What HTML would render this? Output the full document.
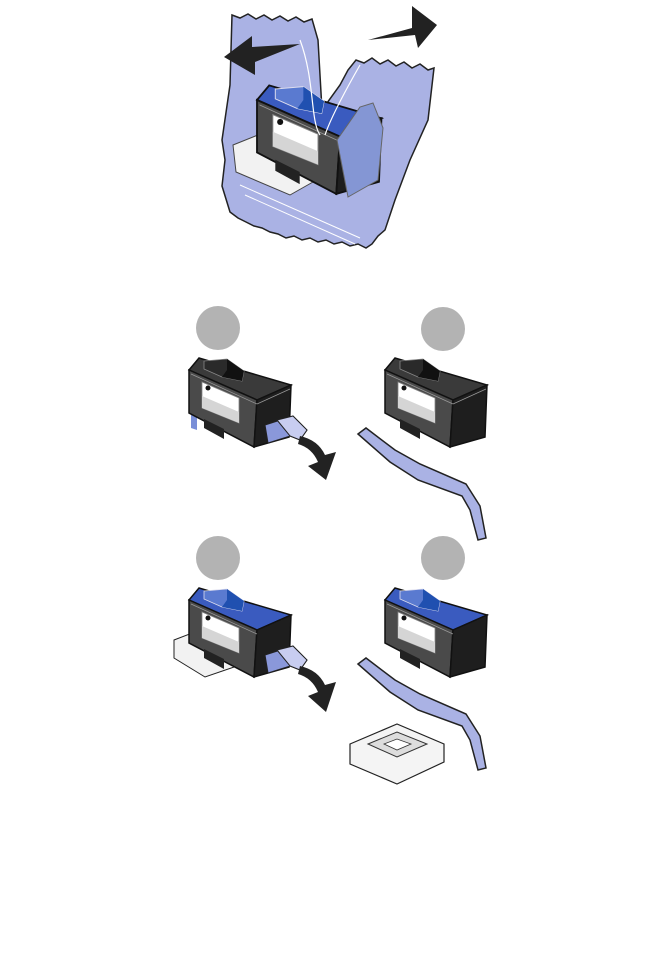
<!DOCTYPE html>
<html><head><meta charset="utf-8"><style>html,body{margin:0;padding:0;background:#fff}svg{display:block}</style></head>
<body>
<svg width="658" height="962" viewBox="0 0 658 962" xmlns="http://www.w3.org/2000/svg">
<defs>
<g id="cart">
  <polygon points="0,0 10,-12 102,15 68,30" fill="#3a3a3a" stroke="#111" stroke-width="1.5"/>
  <polygon points="0,0 68,30 65,77 0,43" fill="#4a4a4a" stroke="#111" stroke-width="1.5"/>
  <polygon points="68,30 102,15 100,67 65,77" fill="#1e1e1e" stroke="#111" stroke-width="1.5"/>
  <polygon points="13,12 50,28 50,53 13,38" fill="#fff" stroke="#888" stroke-width="0.8"/>
  <polygon points="13,26 50,42 50,53 13,38" fill="#d5d5d5"/>
  <circle cx="19" cy="18" r="2.5" fill="#111"/>
  <polygon points="15,49 35,59 35,69 15,58" fill="#222"/>
  <polygon points="15,-9 38,-11 55,1 53,11 33,7 15,-1" fill="#2a2a2a" stroke="#888" stroke-width="0.8"/>
  <polygon points="33,7 53,11 55,1 38,-11 38,0" fill="#111"/>
  <line x1="2" y1="4" x2="68" y2="34" stroke="#999" stroke-width="0.7"/>
  <line x1="68" y1="34" x2="101" y2="19" stroke="#999" stroke-width="0.7"/>
</g>
<g id="cartc">
  <polygon points="0,0 10,-12 102,15 68,30" fill="#3a5bbf" stroke="#111" stroke-width="1.5"/>
  <polygon points="0,0 68,30 65,77 0,43" fill="#4a4a4a" stroke="#111" stroke-width="1.5"/>
  <polygon points="68,30 102,15 100,67 65,77" fill="#1e1e1e" stroke="#111" stroke-width="1.5"/>
  <polygon points="13,12 50,28 50,53 13,38" fill="#fff" stroke="#888" stroke-width="0.8"/>
  <polygon points="13,26 50,42 50,53 13,38" fill="#d5d5d5"/>
  <circle cx="19" cy="18" r="2.5" fill="#111"/>
  <polygon points="15,49 35,59 35,69 15,58" fill="#222"/>
  <polygon points="15,-9 38,-11 55,1 53,11 33,7 15,-1" fill="#5a7ad0" stroke="#dde" stroke-width="0.8"/>
  <polygon points="33,7 53,11 55,1 38,-11 38,0" fill="#2050b0"/>
  <line x1="2" y1="4" x2="68" y2="34" stroke="#999" stroke-width="0.7"/>
</g>
</defs>

<!-- Top bag -->
<polygon points="232,15 240,18 248,14 256,19 264,15 272,20 280,16 288,21 296,17 304,22 312,19 318,40 322,110 340,85 348,70 356,60 364,63 372,58 380,64 388,60 396,66 404,62 412,68 420,64 428,70 434,68 428,120 410,160 395,200 385,230 378,236 372,244 366,248 358,244 350,246 342,242 334,244 326,240 318,242 310,238 302,240 294,236 286,238 278,234 270,232 262,228 254,226 246,222 238,218 230,212 222,186 225,160 222,140 230,85" fill="#aab2e4" stroke="#222" stroke-width="1.5"/>
<polygon points="233,145 258,135 320,178 290,195 236,172" fill="#f2f2f2" stroke="#444" stroke-width="1"/>
<g transform="translate(257,100) scale(1.22)"><use href="#cartc"/></g>
<polygon points="337,140 360,107 373,103 383,128 378,180 348,197" fill="#8496d4" stroke="#666" stroke-width="1"/>
<polygon points="224,57 252,36 252,47 300,44 255,62 255,75" fill="#222"/>
<polygon points="368,40 412,28 412,6 437,25 418,48 415,35" fill="#222"/>
<path d="M300,40 C315,80 310,120 320,135 M360,65 C340,100 330,120 325,135" stroke="#fff" stroke-width="1.2" fill="none"/>
<line x1="240" y1="185" x2="360" y2="238" stroke="#fff" stroke-width="1"/>
<line x1="245" y1="195" x2="355" y2="244" stroke="#fff" stroke-width="1"/>

<!-- circles -->
<circle cx="218" cy="328" r="22" fill="#b3b3b3"/>
<circle cx="443" cy="329" r="22" fill="#b3b3b3"/>
<circle cx="218" cy="558" r="22" fill="#b3b3b3"/>
<circle cx="443" cy="558" r="22" fill="#b3b3b3"/>

<!-- panel 1 -->
<polygon points="191,400 197,402 197,430 191,428" fill="#7a8fd8"/>
<g transform="translate(189,370)"><use href="#cart"/></g>
<polygon points="265,425 293,416 307,430 300,440 290,436 268,443" fill="#8a98da" stroke="#222" stroke-width="1"/>
<polygon points="277,420 293,416 307,430 300,440 290,436" fill="#c8cdf0" stroke="#222" stroke-width="1"/>
<path d="M300,436 Q318,440 325,455 L336,452 L326,480 L308,466 L318,462 Q312,448 298,444 Z" fill="#222"/>

<!-- panel 2 -->
<g transform="translate(385,370)"><use href="#cart"/></g>
<polygon points="358,434 366,428 395,450 420,464 466,484 480,506 486,538 478,540 470,510 462,496 418,480 390,462" fill="#aab2e4" stroke="#222" stroke-width="1.5"/>

<!-- panel 3 -->
<polygon points="174,640 200,630 240,650 240,665 205,677 174,658" fill="#f2f2f2" stroke="#222" stroke-width="1"/>
<g transform="translate(189,600)"><use href="#cartc"/></g>
<polygon points="265,655 293,646 307,660 300,670 290,666 268,673" fill="#8a98da" stroke="#222" stroke-width="1"/>
<polygon points="277,650 293,646 307,660 300,670 290,666" fill="#c8cdf0" stroke="#222" stroke-width="1"/>
<path d="M300,666 Q318,670 325,685 L336,682 L326,712 L308,696 L318,692 Q312,678 298,674 Z" fill="#222"/>

<!-- panel 4 -->
<g transform="translate(385,600)"><use href="#cartc"/></g>
<polygon points="358,664 366,658 395,680 420,694 466,714 480,736 486,768 478,770 470,740 462,726 418,710 390,692" fill="#aab2e4" stroke="#222" stroke-width="1.5"/>
<polygon points="350,744 397,724 444,744 444,762 397,784 350,764" fill="#f4f4f4" stroke="#222" stroke-width="1.2"/>
<polygon points="368,744 397,732 427,744 397,757" fill="#ddd" stroke="#333" stroke-width="1"/>
<polygon points="384,744 397,739 411,744 397,750" fill="#fff" stroke="#333" stroke-width="0.8"/>
</svg>
</body></html>
